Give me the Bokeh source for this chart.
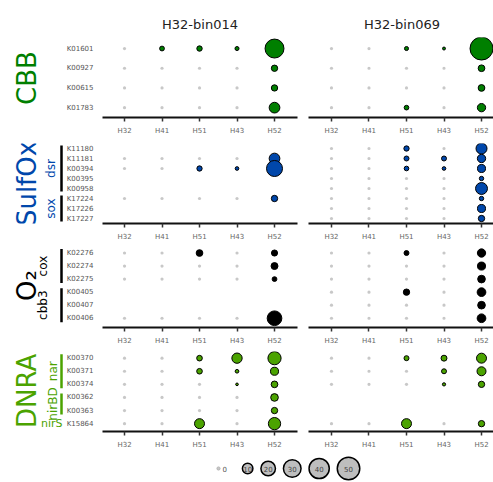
import numpy as np
from bokeh.plotting import figure
from bokeh.layouts import row, column
from bokeh.models import Range1d, FixedTicker, ColumnDataSource
from bokeh.core.properties import value
from bokeh.embed import file_html
from bokeh.resources import INLINE

FONT = "DejaVu Sans"

samples = ["H32", "H41", "H51", "H43", "H52"]
bins = ["H32-bin014", "H32-bin069"]

cbb_genes = ["K01601", "K00927", "K00615", "K01783"]
cbb_bin014 = [[0, 1.3, 1.8, 0.8, 33], [0, 0, 0, 0, 2.7], [0, 0, 0, 0, 2.7], [0, 0, 0, 0, 9.4]]
cbb_bin069 = [[0, 0, 0.8, 0.3, 50], [0, 0, 0, 0, 3.1], [0, 0, 0, 0, 3.1], [0, 0, 1.2, 0, 5.2]]

sulf_genes = ["K11180", "K11181", "K00394", "K00395", "K00958", "K17224", "K17226", "K17227"]
sulf_bin014 = [None, [0, 0, 0, 0, 9.4], [0, 0, 1.7, 0.6, 23], None, None, [0, 0, 0, 0, 2.7], None, None]
sulf_bin069 = [[0, 0, 1.7, 0, 10], [0, 0, 1.45, 1.45, 5.2], [0, 0, 1.2, 0.6, 4.8], [0, 0, 0, 0, 1.0],
               [0, 0, 0, 0, 12], [0, 0, 0, 0, 1.0], [0, 0, 0, 0, 4.8], [0, 0, 0, 0, 2.7]]
sulf_sub = [("dsr", 0, 4), ("sox", 5, 7)]

o2_genes = ["K02276", "K02274", "K02275", "K00405", "K00407", "K00406"]
o2_bin014 = [[0, 0, 3.1, 0, 2.5], [0, 0, 0, 0, 3.4], [0, 0, 0, 0, 1.3], None, None, [0, 0, 0, 0, 19]]
o2_bin069 = [[0, 0, 1.45, 0, 5.2], [0, 0, 0, 0, 4.8], [0, 0, 0, 0, 4.3], [0, 0, 2.7, 0, 5.8],
             [0, 0, 0, 0, 4.3], [0, 0, 0, 0, 5.8]]
o2_sub = [("cox", 0, 2), ("cbb3", 3, 5)]

dnra_genes = ["K00370", "K00371", "K00374", "K00362", "K00363", "K15864"]
dnra_bin014 = [[0, 0, 2.0, 8.6, 15], [0, 0, 2.0, 0.6, 4.8], [0, 0, 0, 0.2, 3.1], [0, 0, 0, 0, 4.3],
               [0, 0, 0, 0, 2.7], [0, 0, 8, 0, 12.8]]
dnra_bin069 = [[0, 0, 1.45, 2.3, 8], [0, 0, 0, 1.45, 6.3], [0, 0, 0, 0.4, 2.7], None, None, [0, 0, 8, 0, 2.7]]
dnra_sub = [("nar", 0, 2), ("nirBD", 3, 4), ("nirS", 5, 5)]

legend_vals = [0, 10, 20, 30, 40, 50]

C_CBB = "#007f00"
C_SULF = "#0047ab"
C_O2 = "#000000"
C_DNRA = "#4ba300"

panels = [
    dict(name="CBB", genes=cbb_genes, vals=(cbb_bin014, cbb_bin069), sub=[], color=C_CBB,
         bar=C_CBB, top=37, fh=80, pad=(0.56, 0.5), subx=50),
    dict(name="SulfOx", genes=sulf_genes, vals=(sulf_bin014, sulf_bin069), sub=sulf_sub, color=C_SULF,
         bar="#000000", top=6, fh=80, pad=(0.5, 0.5), subx=50),
    dict(name="O\u2082", genes=o2_genes, vals=(o2_bin014, o2_bin069), sub=o2_sub, color=C_O2,
         bar="#000000", top=3, fh=81, pad=(0.5, 0.71), subx=42),
    dict(name="DNRA", genes=dnra_genes, vals=(dnra_bin014, dnra_bin069), sub=dnra_sub, color=C_DNRA,
         bar=C_DNRA, top=4, fh=80, pad=(0.51, 0.6), subx=52),
]


def diam(v):
    return 2.3 + 3.07 * np.sqrt(v)


def style(p):
    p.grid.visible = False
    p.outline_line_color = None
    p.background_fill_color = "white"
    p.border_fill_color = "white"


rows = []
for pi_, pan in enumerate(panels):
    n = len(pan["genes"])
    yr = Range1d(start=n - 1 + pan["pad"][1], end=-pan["pad"][0])
    bottom = 20
    # label figure
    lf = figure(frame_width=63, frame_height=pan["fh"], x_range=Range1d(0, 63), y_range=yr,
                min_border_left=0, min_border_right=0, min_border_top=pan["top"],
                min_border_bottom=bottom, toolbar_location=None, output_backend="svg",
                x_axis_location=None, y_axis_location=None, title=None)
    style(lf)
    lf.text(x=[26], y=[(n - 1) / 2], text=[pan["name"]], angle=np.pi / 2, text_align="center",
            text_baseline="middle", text_font_size="26px", text_color=pan["color"],
            text_font=value(FONT))
    for lab, a, b in pan["sub"]:
        if a == b:
            lf.text(x=[62], y=[a], text=[lab], text_align="right", text_baseline="middle",
                    text_font_size="11px", text_color=pan["color"], text_font=value(FONT))
        else:
            lf.segment(x0=[61], y0=[a - 0.3], x1=[61], y1=[b + 0.3], line_width=2.5,
                       line_color=pan["bar"])
            lf.text(x=[pan["subx"]], y=[(a + b) / 2], text=[lab], angle=np.pi / 2,
                    text_align="center", text_baseline="middle", text_font_size="12px",
                    text_color=pan["color"], text_font=value(FONT))
    figs = [lf]
    for bi in range(2):
        left = bi == 0
        xr = Range1d(-0.587, 4.613) if left else Range1d(-0.613, 4.373)
        p = figure(frame_width=195 if left else 187, frame_height=pan["fh"], x_range=xr, y_range=yr,
                   min_border_left=37 if left else 0, min_border_right=11 if left else 0,
                   min_border_top=pan["top"], min_border_bottom=bottom, toolbar_location=None,
                   output_backend="svg", y_axis_location="left" if left else None,
                   title=bins[bi] if pi_ == 0 else None)
        style(p)
        if pi_ == 0:
            p.title.align = "center"
            p.title.text_font_size = "13px"
            p.title.text_font_style = "normal"
            p.title.text_font = FONT
            p.title.text_color = "#222222"
            p.title.standoff = 12
            p.title.offset = 2 if left else 6
        zx, zy, cx, cy, cs = [], [], [], [], []
        for gi, rv in enumerate(pan["vals"][bi]):
            if rv is None:
                continue
            for sj, v in enumerate(rv):
                if v == 0:
                    zx.append(sj); zy.append(gi)
                else:
                    cx.append(sj); cy.append(gi); cs.append(diam(v) - 1)
        p.scatter(x=zx, y=zy, size=3.2, fill_color="#c8c8c8", line_color=None)
        p.scatter(x=cx, y=cy, size=cs, fill_color=pan["color"], line_color="black", line_width=1)
        ax = p.xaxis[0]
        ax.ticker = FixedTicker(ticks=list(range(len(samples))))
        ax.major_label_overrides = {i: s for i, s in enumerate(samples)}
        ax.axis_line_width = 2
        ax.axis_line_color = "#111111"
        ax.major_tick_out = 4
        ax.major_tick_in = 0
        ax.major_tick_line_width = 1.5
        ax.major_tick_line_color = "#333333"
        ax.minor_tick_out = 0
        ax.minor_tick_in = 0
        ax.major_label_text_font_size = "7px"
        ax.major_label_text_color = "#666666"
        ax.major_label_text_font = FONT
        ax.major_label_standoff = 5
        if left:
            ya = p.yaxis[0]
            ya.ticker = FixedTicker(ticks=list(range(n)))
            ya.major_label_overrides = {i: g for i, g in enumerate(pan["genes"])}
            ya.axis_line_color = None
            ya.major_tick_line_color = None
            ya.minor_tick_line_color = None
            ya.major_tick_out = 0
            ya.major_tick_in = 0
            ya.minor_tick_out = 0
            ya.minor_tick_in = 0
            ya.major_label_standoff = 9
            ya.major_label_text_font_size = "7px"
            ya.major_label_text_color = "#555555"
            ya.major_label_text_font = FONT
        figs.append(p)
    rows.append(row(*figs, spacing=0))

# size legend
lg = figure(width=493, height=31, x_range=Range1d(0, 493), y_range=Range1d(0, 31),
            min_border=0, toolbar_location=None, output_backend="svg",
            x_axis_location=None, y_axis_location=None, title=None)
style(lg)
ds = [diam(v) for v in legend_vals]
xs = [218.0]
for i in range(1, len(legend_vals)):
    gap = 22 if legend_vals[i - 1] == 0 else 6.5
    xs.append(xs[-1] + ds[i - 1] / 2 + ds[i] / 2 + gap)
ly = 14
zero = [i for i, v in enumerate(legend_vals) if v == 0]
nz = [i for i, v in enumerate(legend_vals) if v != 0]
lg.scatter(x=[xs[i] for i in zero], y=[ly] * len(zero), size=3.2, fill_color="#c8c8c8",
           line_color="#aaaaaa", line_width=0.8)
lg.scatter(x=[xs[i] for i in nz], y=[ly] * len(nz), size=[ds[i] - 1.5 for i in nz],
           fill_color="#bebebe", line_color="black", line_width=1.5)
lg.text(x=[xs[i] + 4 for i in zero], y=[ly] * len(zero), text=[str(legend_vals[i]) for i in zero],
        text_align="left", text_baseline="middle", text_font_size="7px", text_color="#555555",
        text_font=value(FONT))
lg.text(x=[xs[i] for i in nz], y=[ly] * len(nz), text=[str(legend_vals[i]) for i in nz],
        text_align="center", text_baseline="middle", text_font_size="7px", text_color="#444444",
        text_font=value(FONT))

layout = column(*rows, lg, spacing=0)
open("out.html", "w").write(file_html(layout, INLINE))
